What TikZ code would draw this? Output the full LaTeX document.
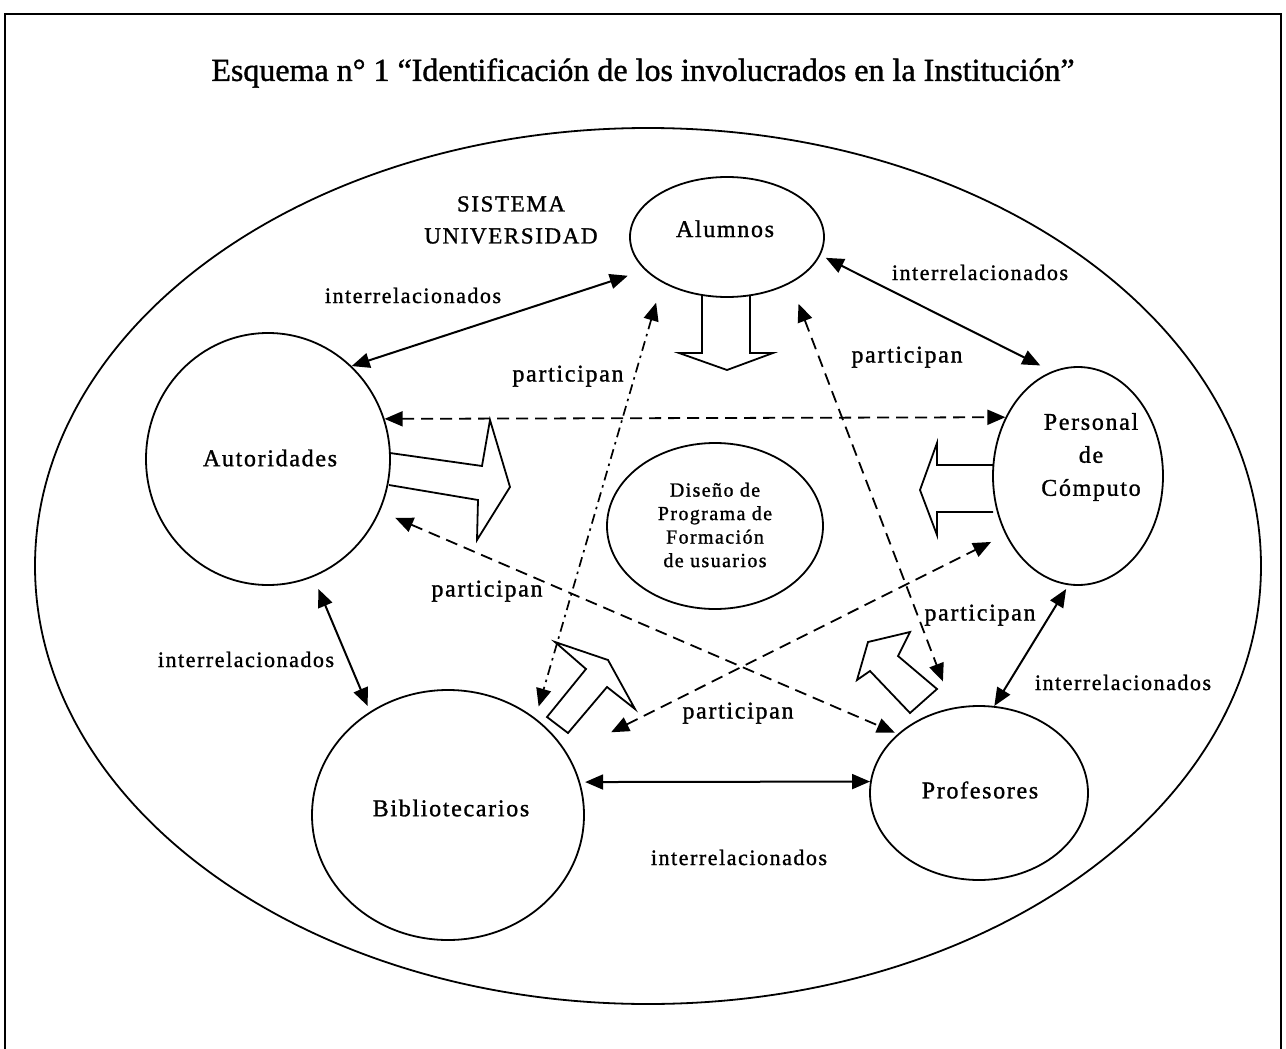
\documentclass[tikz,border=0pt]{standalone}
\usepackage{fontspec}
\setmainfont{Liberation Serif}
\newfontfamily\lsp[LetterSpace=7,FakeBold=1.2]{Liberation Serif}
\newfontfamily\ttl[FakeBold=1.2]{Liberation Serif}
\usetikzlibrary{arrows.meta,shapes.geometric}
\begin{document}
\begin{tikzpicture}[x=1pt,y=-1pt,
  >={Triangle[length=18pt,width=15pt]},
  ell/.style={ellipse,draw,line width=1.8pt,inner sep=0pt},
  nm/.style={font=\lsp\fontsize{24}{28}\selectfont,inner sep=0pt},
  lbl/.style={font=\lsp\fontsize{22}{26}\selectfont,inner sep=0pt,text height=15pt,text depth=5pt},
  part/.style={font=\lsp\fontsize{24}{28}\selectfont,inner sep=0pt,text height=16pt,text depth=5pt},
  rel/.style={<->,line width=2pt},
  dsh/.style={<->,line width=1.8pt,dash pattern=on 12pt off 7pt},
  dshdot/.style={<->,line width=1.7pt,dash pattern=on 10pt off 5pt on 2.5pt off 5pt},
  blk/.style={line width=1.8pt,line join=miter}
]
\useasboundingbox (0,0) rectangle (1286,1049);
% frame
\draw[line width=1.2pt] (5,1049) -- (5,14) -- (1281,14) -- (1281,1049);
% title
\node[font=\ttl\fontsize{32}{38}\selectfont,inner sep=0pt] (title) at (643,73) {Esquema n° 1 “Identificación de los involucrados en la Institución”};
% system ellipse
\node[ell,minimum width=1226,minimum height=876] (sys) at (648,566) {};
\node[nm,align=center,font=\lsp\fontsize{23}{32}\selectfont] (sistema) at (511,220) {SISTEMA\\UNIVERSIDAD};
% actors
\node[ell,minimum width=194,minimum height=120] (alu) at (727,237) {};
\node[nm,anchor=base] (talu) at (725,237) {Alumnos};
\node[ell,minimum width=244,minimum height=252] (aut) at (268,459) {};
\node[nm] (taut) at (270,458) {Autoridades};
\node[ell,minimum width=170,minimum height=218] (per) at (1078,476) {};
\node[nm,align=center,font=\lsp\fontsize{24}{33}\selectfont] (tper) at (1091,457) {Personal\\de\\Cómputo};
\node[ell,minimum width=272,minimum height=250] (bib) at (448,815) {};
\node[nm] (tbib) at (451,808) {Bibliotecarios};
\node[ell,minimum width=218,minimum height=174] (pro) at (979,793) {};
\node[nm] (tpro) at (980,790) {Profesores};
\node[ell,minimum width=216,minimum height=166] (dis) at (715,526) {};
\node[align=center,font=\lsp\fontsize{20}{23.5}\selectfont,inner sep=0pt] (tdis) at (715,525) {Diseño de\\Programa de\\Formación\\de usuarios};
% interrelacionados
\draw[rel,shorten >=18pt] (aut.48.5) -- (alu.202.5);
\draw[rel,shorten <=6pt,shorten >=13pt] (alu.349.5) -- (per.104.4);
\draw[rel,shorten <=13pt,shorten >=6pt] (aut.291) -- (bib.127.5);
\draw[rel,shorten <=4.5pt] (per.265.4) -- (pro.80.4);
\draw[rel,shorten <=5pt] (bib.14.1) -- (pro.174.2);
% participan
\draw[dsh] (aut.19.6) -- (per.141.2);
\draw[dshdot,shorten <=21pt,shorten >=12pt] (alu.215) -- (bib.48.1);
\draw[dsh,shorten <=22pt,shorten >=28pt] (alu.324.2) -- (pro.107);
\draw[dsh,shorten <=16.5pt,shorten >=3pt] (aut.335.8) -- (pro.144.1);
\draw[dsh,shorten <=48.5pt,shorten >=16pt] (bib.27.4) -- (per.219.4);
% block arrows
\draw[blk] (702,295) -- (702,353) -- (679,353) -- (727,370) -- (773,353) -- (750,353) -- (750,295);
\draw[blk] (390,453) -- (482,466) -- (490,420) -- (510,487) -- (477,540) -- (478,500) -- (389,485);
\draw[blk] (993,465) -- (937,465) -- (937,443) -- (920,490) -- (937,535) -- (937,512) -- (993,512);
\draw[blk] (586,669) -- (555,642) -- (608,660) -- (635,709) -- (607,687) -- (568,733) -- (547,717) -- cycle;
\draw[blk] (870,671) -- (857,680) -- (868,642) -- (910,632) -- (898,656) -- (937,689) -- (910,713) -- cycle;
% labels
\node[lbl] (i1) at (413,298) {interrelacionados};
\node[lbl] (i2) at (980,275) {interrelacionados};
\node[lbl] (i3) at (246,662) {interrelacionados};
\node[lbl] (i4) at (1123,685) {interrelacionados};
\node[lbl] (i5) at (739,860) {interrelacionados};
\node[part] (p1) at (568,376) {participan};
\node[part] (p2) at (907,357) {participan};
\node[part] (p3) at (487,591) {participan};
\node[part] (p4) at (980,615) {participan};
\node[part] (p5) at (738,713) {participan};
\end{tikzpicture}
\end{document}
